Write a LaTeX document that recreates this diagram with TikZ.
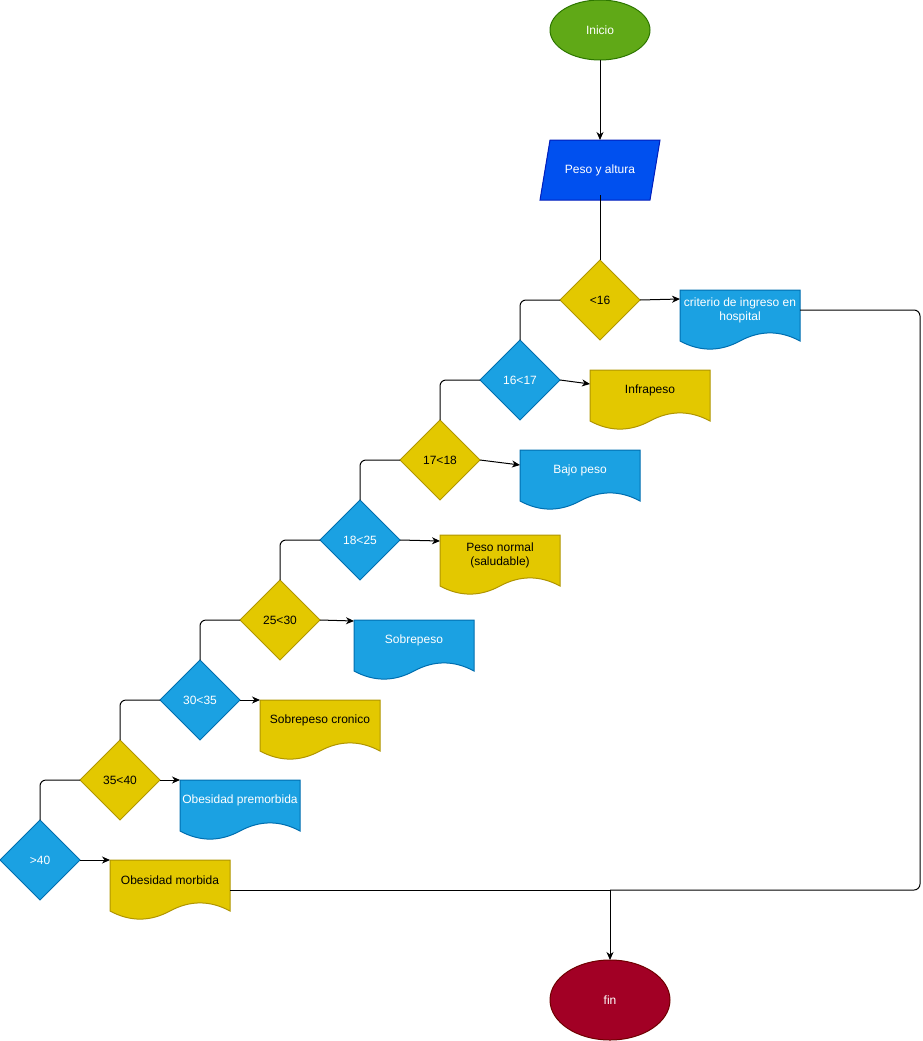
\documentclass[tikz,border=0pt]{standalone}
\usepackage{fontspec}
\setmainfont{Liberation Sans}
\usepackage{xcolor}
\definecolor{ColYel}{RGB}{227,200,0}
\definecolor{ColYelD}{RGB}{176,149,0}
\definecolor{ColBlu}{RGB}{27,161,226}
\definecolor{ColBluD}{RGB}{0,110,175}
\definecolor{ColDat}{RGB}{0,80,239}
\definecolor{ColDatD}{RGB}{0,29,188}
\definecolor{ColIni}{RGB}{96,169,23}
\definecolor{ColIniD}{RGB}{45,118,0}
\definecolor{ColFin}{RGB}{162,0,37}
\definecolor{ColFinD}{RGB}{111,0,0}
\usetikzlibrary{shapes.geometric}
\usetikzlibrary{arrows.meta}
\usetikzlibrary{backgrounds}
\tikzstyle{Base}=[font=\fontsize{12}{14}\selectfont,inner sep=1pt,outer sep=0pt,
line width=1pt]
\tikzstyle{Yel}=[fill=ColYel,draw=ColYelD,text=black]
\tikzstyle{Blu}=[fill=ColBlu,draw=ColBluD,text=white]
\tikzstyle{Decision}=[Base,diamond,minimum width=80pt,minimum height=80pt]
\tikzstyle{Doc}=[Base,rectangle,minimum width=120pt,minimum height=40pt,
align=center]
\tikzstyle{DocYel}=[Doc,text=black]
\tikzstyle{DocBlu}=[Doc,text=white]
\tikzstyle{Edge}=[draw=black,line width=1pt]
\tikzstyle{Arrow}=[Edge,-{Stealth[length=8pt,width=7pt,inset=2.5pt]}]
\newcommand{\DocShape}[2]{%
  \path[#2,line width=1pt] (#1.north west) -- (#1.north east) -- ++(0,51)
    .. controls +(-20,-10.8) and +(20,-10.8) .. ++(-60,0)
    .. controls +(-20,10.8) and +(20,10.8) .. ++(-60,0) -- cycle;}

\begin{document}
\begin{tikzpicture}[x=1pt,y=-1pt]
    \useasboundingbox (0,0) rectangle (922,1041);
        \node[Base,ellipse,minimum width=100pt,minimum height=60pt,
            fill=ColIni,draw=ColIniD,text=white](ini)at(600,30){Inicio};
        \node[Base,rectangle,minimum width=110pt,minimum height=60pt,
            text=white](dat)at(600,170){Peso y altura};
        \node[Decision,Yel](d1)at(600,300){<16};
        \node[Decision,Blu](d2)at(520,380){16<17};
        \node[Decision,Yel](d3)at(440,460){17<18};
        \node[Decision,Blu](d4)at(360,540){18<25};
        \node[Decision,Yel](d5)at(280,620){25<30};
        \node[Decision,Blu](d6)at(200,700){30<35};
        \node[Decision,Yel](d7)at(120,780){35<40};
        \node[Decision,Blu](d8)at(40,860){>40};
        \node[DocBlu](doc1)at(740,310){criterio de ingreso en\\hospital};
        \node[DocYel](doc2)at(650,390){Infrapeso};
        \node[DocBlu](doc3)at(580,470){Bajo peso};
        \node[DocYel](doc4)at(500,555){Peso normal\\(saludable)};
        \node[DocBlu](doc5)at(414,640){Sobrepeso};
        \node[DocYel](doc6)at(320,720){Sobrepeso cronico};
        \node[DocBlu](doc7)at(240,800){Obesidad premorbida};
        \node[DocYel](doc8)at(170,880){Obesidad morbida};
        \node[Base,ellipse,minimum width=120pt,minimum height=80pt,
            fill=ColFin,draw=ColFinD,text=white](fin)at(610,1000){fin};
        \begin{scope}[on background layer]
            \path[fill=ColDat,draw=ColDatD,line width=1pt]
                ([xshift=5pt]dat.north west)--([xshift=5pt]dat.north east)
                --([xshift=-5pt]dat.south east)--([xshift=-5pt]dat.south west)
                --cycle;
            \DocShape{doc1}{Blu}
            \DocShape{doc2}{Yel}
            \DocShape{doc3}{Blu}
            \DocShape{doc4}{Yel}
            \DocShape{doc5}{Blu}
            \DocShape{doc6}{Yel}
            \DocShape{doc7}{Blu}
            \DocShape{doc8}{Yel}
        \end{scope}
        \draw[Arrow](ini)--(dat);
        \draw[Edge]([yshift=5pt]dat.south)--(d1.north);
        \draw[Arrow](d1.east)--([yshift=-9pt]doc1.north west);
        \draw[Arrow](d2.east)--([yshift=-14pt]doc2.north west);
        \draw[Arrow](d3.east)--([yshift=-15pt]doc3.north west);
        \draw[Arrow](d4.east)--([yshift=-6pt]doc4.north west);
        \draw[Arrow](d5.east)--([yshift=-1pt]doc5.north west);
        \draw[Arrow](d6.east)--(doc6.north west);
        \draw[Arrow](d7.east)--(doc7.north west);
        \draw[Arrow](d8.east)--(doc8.north west);
        \draw[Edge,rounded corners=6pt](d1.west)-|(d2.north);
        \draw[Edge,rounded corners=6pt](d2.west)-|(d3.north);
        \draw[Edge,rounded corners=6pt](d3.west)-|(d4.north);
        \draw[Edge,rounded corners=6pt](d4.west)-|(d5.north);
        \draw[Edge,rounded corners=6pt](d5.west)-|(d6.north);
        \draw[Edge,rounded corners=6pt](d6.west)-|(d7.north);
        \draw[Edge,rounded corners=6pt](d7.west)-|(d8.north);
        \coordinate(j)at(610,890);
        \coordinate(r)at(920,890);
        \draw[Edge,rounded corners=6pt](doc1.east)-|(r)--(j);
        \draw[Edge](doc8.east|-j)--(j);
        \draw[Arrow](j)--(fin.north);
    \end{tikzpicture}
\end{document}
